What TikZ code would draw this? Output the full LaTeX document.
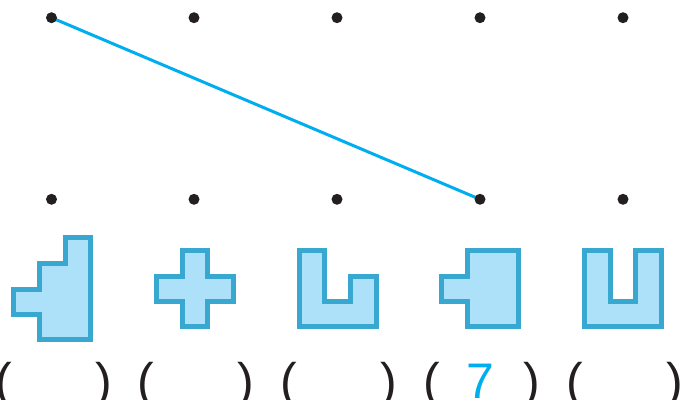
\documentclass[tikz,border=0pt]{standalone}
\usepackage{fontspec}
\setmainfont{Liberation Sans}
\definecolor{dotc}{HTML}{231F20}
\definecolor{linec}{HTML}{00AEEF}
\definecolor{shapeedge}{HTML}{38A8D0}
\definecolor{shapefill}{HTML}{ADE1FA}
\tikzset{
  dotnode/.style={circle,fill=dotc,inner sep=0pt,minimum size=11pt},
  tile/.style={draw=shapeedge,fill=shapefill,line width=5pt,line join=miter},
  paren/.style={inner sep=0pt,anchor=base,font=\fontsize{50}{50}\selectfont,text=dotc},
  answer/.style={inner sep=0pt,anchor=base,font=\fontsize{50}{50}\selectfont,text=linec}
}
\begin{document}
\begin{tikzpicture}[x=1pt,y=-1pt]
\useasboundingbox (0,0) rectangle (682,399);
% dots
\foreach \i/\x in {1/51.5,2/194,3/337,4/480,5/623}{
  \coordinate (tc\i) at (\x,17.7);
  \coordinate (bc\i) at (\x,199.3);
}
\draw[linec,line width=3pt] (tc1) -- (bc4);
\foreach \i in {1,...,5}{
  \node[dotnode] (t\i) at (tc\i) {};
  \node[dotnode] (b\i) at (bc\i) {};
}
% shapes
\draw[tile] (65,237.5) -- (90,237.5) -- (90,339.8) -- (39.2,339.8) -- (39.2,314.2) -- (13.5,314.2) -- (13.5,289.2) -- (39.2,289.2) -- (39.2,263.2) -- (65,263.2) -- cycle;
\draw[tile] (182.5,250.2) -- (207.5,250.2) -- (207.5,276.2) -- (233.2,276.2) -- (233.2,301.5) -- (207.5,301.5) -- (207.5,326.8) -- (182.5,326.8) -- (182.5,301.5) -- (156.2,301.5) -- (156.2,276.2) -- (182.5,276.2) -- cycle;
\draw[tile] (299.2,250.2) -- (324.5,250.2) -- (324.5,301.5) -- (350.8,301.5) -- (350.8,276.2) -- (376.2,276.2) -- (376.2,326.8) -- (299.2,326.8) -- cycle;
\draw[tile] (467.5,250.2) -- (518.5,250.2) -- (518.5,326.8) -- (467.5,326.8) -- (467.5,301.5) -- (441.8,301.5) -- (441.8,276.2) -- (467.5,276.2) -- cycle;
\draw[tile] (584.5,250.2) -- (610.2,250.2) -- (610.2,301.5) -- (635.8,301.5) -- (635.8,250.2) -- (661.5,250.2) -- (661.5,326.8) -- (584.5,326.8) -- cycle;
% parentheses
\foreach \i/\x in {1/51.5,2/194,3/337,4/480,5/623}{
  \node[paren] (l\i) at (\x-48,398) {(};
  \node[paren] (r\i) at (\x+52,398) {)};
}
\node[answer] (ans) at (480,398) {7};
\end{tikzpicture}
\end{document}
